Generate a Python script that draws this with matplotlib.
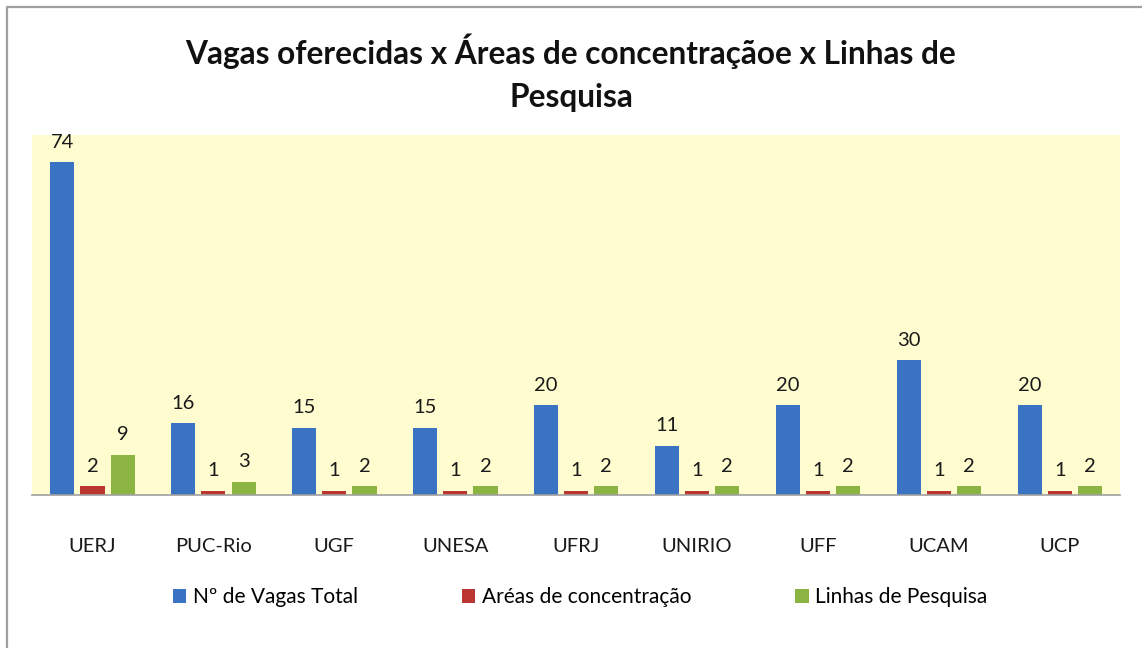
import matplotlib.pyplot as plt
from matplotlib.lines import Line2D
import numpy as np

plt.rcParams['font.family'] = ['Lato', 'DejaVu Sans']

universidades = ["UERJ", "PUC-Rio", "UGF", "UNESA", "UFRJ", "UNIRIO", "UFF", "UCAM", "UCP"]
vagas_total = [74, 16, 15, 15, 20, 11, 20, 30, 20]
areas_conc = [2, 1, 1, 1, 1, 1, 1, 1, 1]
linhas_pesq = [9, 3, 2, 2, 2, 2, 2, 2, 2]

series = [
    ("Nº de Vagas Total", vagas_total, "#3A73C2"),
    ("Aréas de concentração", areas_conc, "#BB3631"),
    ("Linhas de Pesquisa", linhas_pesq, "#8CB443"),
]

fig = plt.figure(figsize=(11.42, 6.48), dpi=100)
ax = fig.add_axes([0.028, 0.236, 0.953, 0.556])
ax.set_facecolor("#FFFDD0")

x = np.arange(len(universidades))
w = 0.2
offsets = [-0.25, 0, 0.25]
for (nome, vals, cor), off in zip(series, offsets):
    bars = ax.bar(x + off, vals, width=w, color=cor, label=nome, zorder=2)
    for b, v in zip(bars, vals):
        ax.annotate(str(v), (b.get_x() + b.get_width() / 2, b.get_height()),
                    xytext=(0, 8), textcoords="offset points",
                    ha="center", va="bottom", fontsize=14.5, color="#1A1A1A")

ax.set_xlim(-0.5, len(universidades) - 0.5)
ax.set_ylim(0, 80)
ax.set_yticks([])
ax.set_xticks(x)
ax.set_xticklabels(universidades, fontsize=14.5, color="#1A1A1A")
ax.tick_params(axis="x", length=0, pad=31)
for s in ["top", "left", "right"]:
    ax.spines[s].set_visible(False)
ax.spines["bottom"].set_color("#A0A0A0")
ax.spines["bottom"].set_linewidth(1.2)

fig.text(0.5, 0.888, "Vagas oferecidas x Áreas de concentraçãoe x Linhas de\nPesquisa",
         ha="center", va="center", fontsize=22.8, fontweight="bold",
         linespacing=1.6, color="#111111")

fig.legend(loc="center", bbox_to_anchor=(0.508, 0.078), ncol=3, frameon=False,
           fontsize=15, handlelength=0.65, handleheight=0.65,
           handletextpad=0.3, columnspacing=5.0)

# outer chart border (top and left)
fig.add_artist(Line2D([0.0061, 0.0061, 1.0], [0.0, 0.989, 0.989],
                      transform=fig.transFigure, color="#A0A0A0", linewidth=1.6))

fig.savefig("out.png", dpi=100)
